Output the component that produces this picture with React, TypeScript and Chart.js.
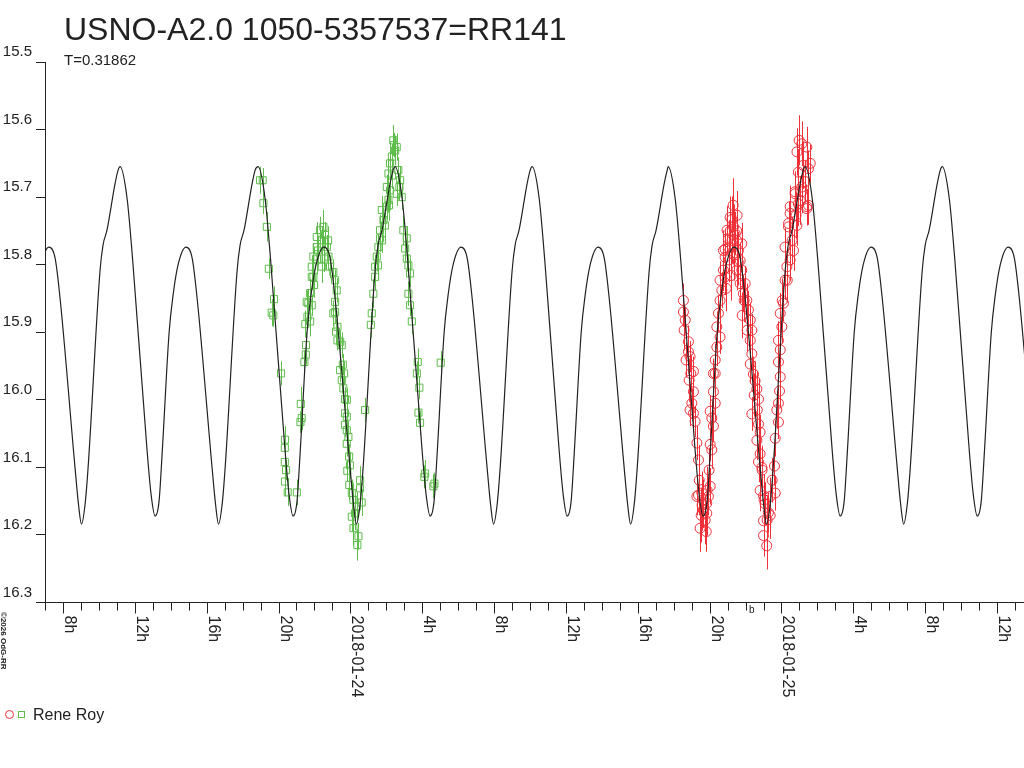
import { useEffect, useRef } from 'react';
import { Chart, registerables, Plugin } from 'chart.js';

Chart.register(...registerables);

const chartTitle = 'USNO-A2.0 1050-5357537=RR141';
const chartSubtitle = 'T=0.31862';
const observerName = 'Rene Roy';
const copyrightText = '©2026 OdG-RR';
const markLabel = 'b';
const markHour = 22.35;

// x axis in hours from 2018-01-24 00:00
const hourMin = -17;
const hourMax = 37.5;
const majorHours = [-16, -12, -8, -4, 0, 4, 8, 12, 16, 20, 24, 28, 32, 36];
const majorLabels = ['8h', '12h', '16h', '20h', '2018-01-24', '4h', '8h', '12h', '16h', '20h', '2018-01-25', '4h', '8h', '12h'];
const magTicks = [15.5, 15.6, 15.7, 15.8, 15.9, 16.0, 16.1, 16.2, 16.3];

// fitted light curve: one cycle (hours after main maximum, mag)
const modelShape: [number, number][] = [
  [0.0, 15.655], [0.39, 15.702], [0.7, 15.793], [1.5, 16.074], [1.73, 16.141], [1.95, 16.172],
  [2.17, 16.15], [2.34, 16.08], [2.73, 15.9], [2.95, 15.845], [3.23, 15.8], [3.67, 15.774],
  [4.01, 15.79], [4.29, 15.85], [5.12, 16.1], [5.32, 16.156], [5.48, 16.184], [5.68, 16.155],
  [5.85, 16.1], [6.51, 15.81], [6.68, 15.771], [6.9, 15.749], [7.35, 15.68], [7.52, 15.66],
];
// times of the main maxima as seen on the plot
const modelMaxima = [-20.45, -12.82, -5.14, 2.49, 10.12, 17.69, 25.32, 32.95];

// observations [hour, mag, error]
const greenObs: [number, number, number][] = [
  [-5.03, 15.675, 0.02], [-4.88, 15.675, 0.018], [-4.84, 15.709, 0.016], [-4.65, 15.744, 0.022], [-4.54, 15.806, 0.015],
  [-4.38, 15.871, 0.02], [-4.29, 15.875, 0.017], [-4.25, 15.851, 0.019], [-3.86, 15.961, 0.018], [-3.64, 16.059, 0.02],
  [-3.65, 16.071, 0.016], [-3.65, 16.092, 0.018], [-3.58, 16.104, 0.015], [-3.64, 16.121, 0.022], [-3.49, 16.137, 0.02],
  [-2.98, 16.137, 0.019], [-2.78, 16.033, 0.016], [-2.71, 16.027, 0.018], [-2.76, 16.006, 0.025], [-2.56, 15.944, 0.017],
  [-2.48, 15.933, 0.015], [-2.47, 15.919, 0.019], [-2.51, 15.888, 0.02], [-2.39, 15.877, 0.018], [-2.24, 15.884, 0.022],
  [-2.43, 15.855, 0.017], [-2.34, 15.857, 0.02], [-2.15, 15.86, 0.016], [-2.24, 15.842, 0.021], [-2.15, 15.818, 0.019],
  [-2.15, 15.803, 0.017], [-2.06, 15.788, 0.02], [-1.87, 15.774, 0.018], [-1.87, 15.759, 0.022], [-1.69, 15.749, 0.02],
  [-1.5, 15.744, 0.025], [-1.41, 15.756, 0.019], [-1.59, 15.764, 0.021], [-1.31, 15.774, 0.018], [-1.22, 15.788, 0.02],
  [-1.13, 15.803, 0.017], [-0.95, 15.811, 0.019], [-0.85, 15.823, 0.016], [-0.76, 15.838, 0.018], [-0.85, 15.855, 0.02],
  [-1.84, 15.792, 0.022], [-1.59, 15.803, 0.024], [-2.06, 15.818, 0.018], [-0.85, 15.87, 0.017], [-0.95, 15.872, 0.019],
  [-0.72, 15.892, 0.016], [-0.8, 15.899, 0.018], [-0.72, 15.912, 0.015], [-0.57, 15.914, 0.017], [-0.48, 15.919, 0.019],
  [-0.42, 15.948, 0.016], [-0.57, 15.956, 0.018], [-0.35, 15.961, 0.017], [-0.48, 15.971, 0.02], [-0.39, 15.983, 0.016],
  [-0.3, 15.999, 0.018], [-0.2, 16.0, 0.017], [-0.3, 16.02, 0.019], [-0.2, 16.025, 0.016], [-0.3, 16.037, 0.018],
  [-0.2, 16.045, 0.02], [-0.11, 16.055, 0.017], [-0.2, 16.065, 0.019], [-0.07, 16.084, 0.018], [-0.02, 16.097, 0.02],
  [-0.17, 16.105, 0.016], [-0.06, 16.126, 0.022], [0.08, 16.138, 0.02], [0.17, 16.148, 0.024], [0.36, 16.158, 0.021],
  [0.26, 16.168, 0.025], [0.08, 16.173, 0.022], [0.17, 16.19, 0.026], [0.45, 16.202, 0.02], [0.39, 16.215, 0.023],
  [0.54, 16.119, 0.021], [0.54, 16.131, 0.019], [0.63, 16.152, 0.02], [0.82, 16.015, 0.018], [1.19, 15.872, 0.017],
  [1.14, 15.889, 0.019], [1.28, 15.843, 0.021], [1.38, 15.818, 0.02], [1.38, 15.803, 0.018], [1.47, 15.788, 0.022],
  [1.56, 15.774, 0.019], [1.65, 15.761, 0.02], [1.65, 15.749, 0.023], [1.84, 15.734, 0.018], [1.75, 15.719, 0.021],
  [2.03, 15.714, 0.02], [2.12, 15.704, 0.019], [2.21, 15.69, 0.022], [2.03, 15.685, 0.018], [2.12, 15.665, 0.02],
  [2.21, 15.65, 0.021], [2.31, 15.64, 0.019], [2.49, 15.631, 0.022], [2.58, 15.626, 0.02], [2.39, 15.616, 0.023],
  [2.43, 15.623, 0.018], [2.67, 15.66, 0.019], [2.77, 15.675, 0.021], [2.58, 15.695, 0.018], [2.73, 15.685, 0.02],
  [2.86, 15.7, 0.019], [2.95, 15.749, 0.022], [3.14, 15.761, 0.018], [3.05, 15.776, 0.02], [3.14, 15.791, 0.019],
  [3.23, 15.801, 0.017], [3.32, 15.813, 0.02], [3.23, 15.843, 0.018], [3.32, 15.86, 0.016], [3.42, 15.884, 0.019],
  [3.75, 15.944, 0.02], [3.7, 15.961, 0.018], [3.84, 15.982, 0.017], [3.79, 16.019, 0.016], [3.88, 16.034, 0.018],
  [4.16, 16.109, 0.02], [4.12, 16.114, 0.017], [4.68, 16.124, 0.016], [4.62, 16.128, 0.018], [5.03, 15.945, 0.017],
  [1.54, 15.801, 0.021], [1.76, 15.764, 0.019], [1.93, 15.742, 0.022], [2.32, 15.668, 0.02], [2.15, 15.712, 0.023],
  [-1.8, 15.779, 0.022], [-1.46, 15.791, 0.02], [-1.24, 15.764, 0.021], [-2.02, 15.83, 0.019],
];

const redObs: [number, number, number][] = [
  [18.54, 15.853, 0.025], [18.54, 15.87, 0.022], [18.64, 15.882, 0.02], [18.82, 15.914, 0.024], [18.82, 15.929, 0.021],
  [18.91, 15.936, 0.023], [18.69, 15.941, 0.026], [19.1, 15.958, 0.022], [18.95, 15.961, 0.028], [19.1, 15.988, 0.025],
  [19.01, 16.005, 0.022], [18.91, 16.015, 0.024], [19.1, 16.02, 0.027], [19.19, 16.032, 0.023], [19.29, 16.064, 0.025],
  [19.38, 16.089, 0.022], [19.38, 16.141, 0.03], [19.29, 16.143, 0.028], [19.57, 16.138, 0.032], [19.65, 16.148, 0.03],
  [19.65, 16.163, 0.027], [19.84, 16.168, 0.033], [19.47, 16.19, 0.035], [19.81, 16.195, 0.03], [19.93, 16.143, 0.028],
  [19.84, 16.153, 0.031], [20.03, 16.128, 0.027], [20.03, 16.066, 0.025], [20.12, 16.074, 0.028], [20.21, 16.039, 0.024],
  [20.12, 16.027, 0.026], [20.03, 16.017, 0.023], [20.31, 16.005, 0.027], [20.21, 15.988, 0.025], [20.21, 15.961, 0.022],
  [20.31, 15.961, 0.026], [20.31, 15.941, 0.024], [20.4, 15.922, 0.028], [20.58, 15.907, 0.025], [20.4, 15.892, 0.023],
  [20.49, 15.872, 0.027], [20.58, 15.853, 0.03], [20.68, 15.838, 0.026], [20.58, 15.823, 0.028], [20.77, 15.808, 0.031],
  [20.86, 15.818, 0.027], [20.86, 15.789, 0.033], [20.86, 15.777, 0.029], [20.77, 15.779, 0.03], [21.05, 15.774, 0.032],
  [21.05, 15.762, 0.028], [21.14, 15.75, 0.03], [21.24, 15.733, 0.034], [21.14, 15.73, 0.031], [21.33, 15.744, 0.033],
  [21.51, 15.75, 0.029], [21.42, 15.754, 0.032], [21.51, 15.764, 0.03], [21.6, 15.779, 0.028], [21.79, 15.769, 0.031],
  [21.7, 15.794, 0.027], [21.51, 15.808, 0.03], [21.79, 15.808, 0.028], [21.98, 15.828, 0.026], [21.7, 15.828, 0.029],
  [21.88, 15.843, 0.027], [22.07, 15.853, 0.025], [22.16, 15.867, 0.028], [22.26, 15.882, 0.026], [22.35, 15.897, 0.024],
  [22.26, 15.912, 0.027], [22.35, 15.932, 0.025], [22.26, 15.947, 0.028], [22.44, 15.962, 0.026], [22.53, 15.972, 0.029],
  [22.63, 15.984, 0.027], [22.72, 15.999, 0.03], [22.35, 16.021, 0.025], [22.72, 16.036, 0.028], [22.81, 16.048, 0.026],
  [22.63, 16.06, 0.029], [22.81, 16.08, 0.027], [22.72, 16.092, 0.03], [22.91, 16.1, 0.028], [22.81, 16.134, 0.031],
  [23.0, 16.142, 0.029], [23.09, 16.154, 0.032], [23.27, 16.167, 0.03], [23.0, 16.179, 0.033], [23.0, 16.201, 0.031],
  [23.18, 16.216, 0.035], [23.37, 16.143, 0.028], [23.65, 16.138, 0.026], [23.61, 16.098, 0.029], [23.65, 16.057, 0.027],
  [23.83, 16.033, 0.025], [23.74, 16.015, 0.028], [23.83, 16.005, 0.026], [23.89, 15.987, 0.024], [23.93, 15.966, 0.027],
  [23.83, 15.944, 0.029], [23.93, 15.926, 0.026], [23.83, 15.912, 0.028], [24.02, 15.892, 0.025], [23.93, 15.872, 0.03],
  [24.11, 15.857, 0.027], [24.2, 15.823, 0.029], [24.3, 15.803, 0.026], [24.48, 15.793, 0.031], [24.2, 15.774, 0.028],
  [24.67, 15.779, 0.03], [24.39, 15.744, 0.027], [24.39, 15.739, 0.032], [24.48, 15.724, 0.029], [24.48, 15.714, 0.031],
  [24.76, 15.695, 0.028], [24.94, 15.71, 0.033], [24.86, 15.742, 0.03], [25.13, 15.685, 0.027], [25.32, 15.677, 0.031],
  [25.41, 15.714, 0.026], [25.5, 15.712, 0.029], [25.41, 15.717, 0.025], [24.76, 15.692, 0.03], [25.13, 15.692, 0.032],
  [24.94, 15.663, 0.034], [24.86, 15.633, 0.035], [25.13, 15.621, 0.033], [25.41, 15.626, 0.03], [25.6, 15.65, 0.028],
  [25.5, 15.658, 0.027],
  [20.97, 15.749, 0.036], [21.25, 15.764, 0.034], [21.36, 15.786, 0.038], [21.59, 15.796, 0.035], [21.09, 15.793, 0.033],
  [20.92, 15.835, 0.034], [21.2, 15.816, 0.037], [21.92, 15.853, 0.032], [21.81, 15.875, 0.034], [22.09, 15.897, 0.031],
  [21.31, 15.712, 0.04], [21.53, 15.727, 0.036],
  [19.42, 16.119, 0.034], [19.58, 16.156, 0.038], [19.75, 16.178, 0.036], [19.53, 16.171, 0.04], [19.86, 16.134, 0.035],
  [19.97, 16.104, 0.033],
  [22.48, 15.993, 0.032], [22.65, 16.015, 0.034], [22.92, 16.104, 0.036], [23.03, 16.148, 0.038], [23.2, 16.178, 0.037],
  [23.37, 16.171, 0.035], [23.48, 16.119, 0.033],
  [24.04, 15.853, 0.031], [24.32, 15.823, 0.033], [24.59, 15.764, 0.035], [24.81, 15.727, 0.034], [25.04, 15.705, 0.036],
  [25.21, 15.653, 0.035], [24.98, 15.616, 0.037],
  [18.58, 15.897, 0.03], [18.86, 15.971, 0.032],
];

const GREEN = '#5fbd4c';
const RED = '#ee3139';
const INK = '#222222';
const FONT = '"Liberation Sans", Arial, sans-serif';

// error bars under the markers
const errorBarsPlugin: Plugin = {
  id: 'errorBars',
  beforeDatasetsDraw(chart) {
    const { ctx } = chart;
    const xs = chart.scales.x;
    const ys = chart.scales.y;
    ctx.save();
    ctx.lineWidth = 1;
    const sets: [[number, number, number][], string][] = [[redObs, RED], [greenObs, GREEN]];
    sets.forEach(([obs, color]) => {
      ctx.strokeStyle = color;
      ctx.beginPath();
      obs.forEach(([t, m, e]) => {
        const px = Math.round(xs.getPixelForValue(t)) + 0.5;
        ctx.moveTo(px, ys.getPixelForValue(m - e));
        ctx.lineTo(px, ys.getPixelForValue(m + e));
      });
      ctx.stroke();
    });
    ctx.restore();
  },
};

// title, hour ticks with vertical labels, legend
const decorPlugin: Plugin = {
  id: 'decor',
  afterDraw(chart) {
    const { ctx, chartArea } = chart;
    const xs = chart.scales.x;
    const axisY = chartArea.bottom;
    ctx.save();
    ctx.fillStyle = INK;
    ctx.strokeStyle = INK;
    ctx.lineWidth = 1;

    ctx.font = `32px ${FONT}`;
    ctx.textBaseline = 'alphabetic';
    ctx.textAlign = 'left';
    ctx.fillText(chartTitle, 64, 40);
    ctx.font = `15px ${FONT}`;
    ctx.fillText(chartSubtitle, 64, 65);

    // hourly tick marks
    ctx.beginPath();
    for (let h = Math.ceil(hourMin); h <= hourMax; h++) {
      const px = Math.round(xs.getPixelForValue(h)) + 0.5;
      const len = majorHours.includes(h) ? 11 : 8;
      ctx.moveTo(px, axisY);
      ctx.lineTo(px, axisY + len);
    }
    ctx.stroke();

    ctx.font = `16px ${FONT}`;
    majorHours.forEach((h, i) => {
      const px = Math.round(xs.getPixelForValue(h));
      ctx.save();
      ctx.translate(px + 2, axisY + 13);
      ctx.rotate(Math.PI / 2);
      ctx.textAlign = 'left';
      ctx.textBaseline = 'alphabetic';
      ctx.fillText(majorLabels[i], 0, 0);
      ctx.restore();
    });

    ctx.font = `10px ${FONT}`;
    ctx.textAlign = 'center';
    ctx.fillText(markLabel, xs.getPixelForValue(markHour), axisY + 10);

    ctx.save();
    ctx.font = `bold 8px ${FONT}`;
    ctx.translate(1, 612);
    ctx.rotate(Math.PI / 2);
    ctx.textAlign = 'left';
    ctx.fillText(copyrightText, 0, 0);
    ctx.restore();

    // legend
    ctx.strokeStyle = RED;
    ctx.beginPath();
    ctx.arc(9.5, 714.5, 4, 0, Math.PI * 2);
    ctx.stroke();
    ctx.strokeStyle = GREEN;
    ctx.strokeRect(18.5, 711.5, 6, 6);
    ctx.fillStyle = INK;
    ctx.font = `16px ${FONT}`;
    ctx.textAlign = 'left';
    ctx.fillText(observerName, 33, 720);
    ctx.restore();
  },
};

export default function App() {
  const canvasRef = useRef<HTMLCanvasElement>(null);
  const chartRef = useRef<Chart | null>(null);

  useEffect(() => {
    document.body.style.margin = '0';
    if (!canvasRef.current) return;

    const modelPoints = modelMaxima.flatMap(t0 => modelShape.map(([dt, m]) => ({ x: t0 + dt, y: m })));

    chartRef.current = new Chart(canvasRef.current, {
      type: 'scatter',
      data: {
        datasets: [
          {
            label: 'model',
            data: modelPoints,
            showLine: true,
            borderColor: INK,
            borderWidth: 1.2,
            pointRadius: 0,
            cubicInterpolationMode: 'monotone',
            order: 0,
          },
          {
            label: observerName,
            data: greenObs.map(([t, m]) => ({ x: t, y: m })),
            pointStyle: 'rect',
            pointRadius: 5,
            borderColor: GREEN,
            backgroundColor: 'rgba(0,0,0,0)',
            borderWidth: 1,
            order: 1,
          },
          {
            label: observerName,
            data: redObs.map(([t, m]) => ({ x: t, y: m })),
            pointStyle: 'circle',
            pointRadius: 5,
            borderColor: RED,
            backgroundColor: 'rgba(0,0,0,0)',
            borderWidth: 1,
            order: 2,
          },
        ],
      },
      options: {
        animation: false,
        responsive: false,
        events: [],
        layout: { autoPadding: false, padding: { top: 62, right: 0, left: 0, bottom: 0 } },
        plugins: {
          legend: { display: false },
          tooltip: { enabled: false },
        },
        scales: {
          x: {
            type: 'linear',
            min: hourMin,
            max: hourMax,
            ticks: { display: false },
            grid: { display: false },
            border: { display: true, color: INK, width: 1 },
            afterFit: (scale) => {
              scale.height = 165.5;
              scale.paddingLeft = 0;
              scale.paddingRight = 0;
            },
          },
          y: {
            type: 'linear',
            reverse: true,
            min: 15.5,
            max: 16.3,
            afterBuildTicks: (scale) => {
              scale.ticks = magTicks.map(v => ({ value: v }));
            },
            ticks: {
              color: INK,
              font: { family: FONT, size: 15 },
              padding: 4,
              labelOffset: -10,
              callback: (v) => Number(v).toFixed(1),
            },
            grid: {
              display: true,
              drawOnChartArea: false,
              drawTicks: true,
              tickLength: 9,
              tickColor: INK,
            },
            border: { display: true, color: INK, width: 1 },
            afterFit: (scale) => {
              scale.width = 45;
              scale.paddingTop = 0;
              scale.paddingBottom = 0;
            },
          },
        },
      },
      plugins: [errorBarsPlugin, decorPlugin],
    });

    return () => {
      if (chartRef.current) {
        chartRef.current.destroy();
        chartRef.current = null;
      }
    };
  }, []);

  return (
    <div style={{ width: 1024, height: 768, background: '#fff' }}>
      <canvas ref={canvasRef} width={1024} height={768} />
    </div>
  );
}
